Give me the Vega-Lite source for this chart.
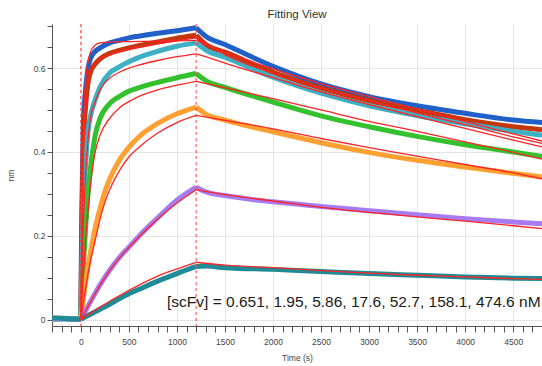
{
  "$schema": "https://vega.github.io/schema/vega-lite/v6.json",
  "width": 490,
  "height": 302,
  "autosize": {"type": "none"},
  "padding": {"left": 52, "top": 24, "right": 0, "bottom": 40},
  "background": "white",
  "title": {"text": "Fitting View", "fontSize": 11.5, "font": "Liberation Sans Narrow, Liberation Sans", "fontWeight": "normal", "color": "#333333", "anchor": "middle", "offset": -3},
  "config": {
    "view": {"stroke": null},
    "axis": {
      "domainColor": "#555555",
      "tickColor": "#555555",
      "labelColor": "#444444",
      "labelFont": "Liberation Sans Narrow, Liberation Sans",
      "labelFontSize": 8.5,
      "titleFont": "Liberation Sans Narrow, Liberation Sans",
      "titleFontSize": 8.5,
      "titleFontWeight": "normal",
      "titleColor": "#444444",
      "gridColor": "#e4e4e4",
      "labelOverlap": false,
      "labelFlush": false
    }
  },
  "datasets": {
    "curves": [
    {"conc":"474.6","kind":"data","phase":"b","time":-300,"value":0.003},
    {"conc":"474.6","kind":"data","phase":"b","time":-150,"value":0.002},
    {"conc":"474.6","kind":"data","phase":"b","time":0,"value":0.001},
    {"conc":"474.6","kind":"data","phase":"a","time":0,"value":0.001},
    {"conc":"474.6","kind":"data","phase":"a","time":10,"value":0.25},
    {"conc":"474.6","kind":"data","phase":"a","time":25,"value":0.46},
    {"conc":"474.6","kind":"data","phase":"a","time":50,"value":0.55},
    {"conc":"474.6","kind":"data","phase":"a","time":75,"value":0.6},
    {"conc":"474.6","kind":"data","phase":"a","time":100,"value":0.622},
    {"conc":"474.6","kind":"data","phase":"a","time":150,"value":0.64},
    {"conc":"474.6","kind":"data","phase":"a","time":200,"value":0.648},
    {"conc":"474.6","kind":"data","phase":"a","time":300,"value":0.66},
    {"conc":"474.6","kind":"data","phase":"a","time":400,"value":0.666},
    {"conc":"474.6","kind":"data","phase":"a","time":500,"value":0.672},
    {"conc":"474.6","kind":"data","phase":"a","time":600,"value":0.676},
    {"conc":"474.6","kind":"data","phase":"a","time":800,"value":0.683},
    {"conc":"474.6","kind":"data","phase":"a","time":1000,"value":0.689},
    {"conc":"474.6","kind":"data","phase":"a","time":1200,"value":0.696},
    {"conc":"474.6","kind":"data","phase":"d","time":1200,"value":0.696},
    {"conc":"474.6","kind":"data","phase":"d","time":1300,"value":0.676},
    {"conc":"474.6","kind":"data","phase":"d","time":1500,"value":0.656},
    {"conc":"474.6","kind":"data","phase":"d","time":2000,"value":0.604},
    {"conc":"474.6","kind":"data","phase":"d","time":2500,"value":0.562},
    {"conc":"474.6","kind":"data","phase":"d","time":3000,"value":0.532},
    {"conc":"474.6","kind":"data","phase":"d","time":3500,"value":0.51},
    {"conc":"474.6","kind":"data","phase":"d","time":4000,"value":0.492},
    {"conc":"474.6","kind":"data","phase":"d","time":4500,"value":0.476},
    {"conc":"474.6","kind":"data","phase":"d","time":4800,"value":0.47},
    {"conc":"474.6","kind":"fit","phase":"a","time":0,"value":0},
    {"conc":"474.6","kind":"fit","phase":"a","time":10,"value":0.2},
    {"conc":"474.6","kind":"fit","phase":"a","time":25,"value":0.42},
    {"conc":"474.6","kind":"fit","phase":"a","time":50,"value":0.57},
    {"conc":"474.6","kind":"fit","phase":"a","time":75,"value":0.615},
    {"conc":"474.6","kind":"fit","phase":"a","time":100,"value":0.638},
    {"conc":"474.6","kind":"fit","phase":"a","time":150,"value":0.655},
    {"conc":"474.6","kind":"fit","phase":"a","time":200,"value":0.66},
    {"conc":"474.6","kind":"fit","phase":"a","time":300,"value":0.662},
    {"conc":"474.6","kind":"fit","phase":"a","time":500,"value":0.663},
    {"conc":"474.6","kind":"fit","phase":"a","time":800,"value":0.664},
    {"conc":"474.6","kind":"fit","phase":"a","time":1200,"value":0.666},
    {"conc":"474.6","kind":"fit","phase":"d","time":1200,"value":0.666},
    {"conc":"474.6","kind":"fit","phase":"d","time":1300,"value":0.657},
    {"conc":"474.6","kind":"fit","phase":"d","time":1500,"value":0.638},
    {"conc":"474.6","kind":"fit","phase":"d","time":2000,"value":0.598},
    {"conc":"474.6","kind":"fit","phase":"d","time":2500,"value":0.563},
    {"conc":"474.6","kind":"fit","phase":"d","time":3000,"value":0.532},
    {"conc":"474.6","kind":"fit","phase":"d","time":3500,"value":0.502},
    {"conc":"474.6","kind":"fit","phase":"d","time":4000,"value":0.472},
    {"conc":"474.6","kind":"fit","phase":"d","time":4500,"value":0.443},
    {"conc":"474.6","kind":"fit","phase":"d","time":4800,"value":0.426},

    {"conc":"158.1","kind":"data","phase":"b","time":-300,"value":0.002},
    {"conc":"158.1","kind":"data","phase":"b","time":-150,"value":0.003},
    {"conc":"158.1","kind":"data","phase":"b","time":0,"value":0.001},
    {"conc":"158.1","kind":"data","phase":"a","time":0,"value":0.001},
    {"conc":"158.1","kind":"data","phase":"a","time":10,"value":0.2},
    {"conc":"158.1","kind":"data","phase":"a","time":25,"value":0.4},
    {"conc":"158.1","kind":"data","phase":"a","time":50,"value":0.51},
    {"conc":"158.1","kind":"data","phase":"a","time":75,"value":0.565},
    {"conc":"158.1","kind":"data","phase":"a","time":100,"value":0.59},
    {"conc":"158.1","kind":"data","phase":"a","time":150,"value":0.61},
    {"conc":"158.1","kind":"data","phase":"a","time":200,"value":0.622},
    {"conc":"158.1","kind":"data","phase":"a","time":300,"value":0.635},
    {"conc":"158.1","kind":"data","phase":"a","time":400,"value":0.642},
    {"conc":"158.1","kind":"data","phase":"a","time":500,"value":0.648},
    {"conc":"158.1","kind":"data","phase":"a","time":600,"value":0.653},
    {"conc":"158.1","kind":"data","phase":"a","time":800,"value":0.662},
    {"conc":"158.1","kind":"data","phase":"a","time":1000,"value":0.671},
    {"conc":"158.1","kind":"data","phase":"a","time":1200,"value":0.678},
    {"conc":"158.1","kind":"data","phase":"d","time":1200,"value":0.678},
    {"conc":"158.1","kind":"data","phase":"d","time":1300,"value":0.656},
    {"conc":"158.1","kind":"data","phase":"d","time":1500,"value":0.638},
    {"conc":"158.1","kind":"data","phase":"d","time":2000,"value":0.59},
    {"conc":"158.1","kind":"data","phase":"d","time":2500,"value":0.552},
    {"conc":"158.1","kind":"data","phase":"d","time":3000,"value":0.522},
    {"conc":"158.1","kind":"data","phase":"d","time":3500,"value":0.499},
    {"conc":"158.1","kind":"data","phase":"d","time":4000,"value":0.477},
    {"conc":"158.1","kind":"data","phase":"d","time":4500,"value":0.46},
    {"conc":"158.1","kind":"data","phase":"d","time":4800,"value":0.453},
    {"conc":"158.1","kind":"fit","phase":"a","time":0,"value":0},
    {"conc":"158.1","kind":"fit","phase":"a","time":10,"value":0.17},
    {"conc":"158.1","kind":"fit","phase":"a","time":25,"value":0.37},
    {"conc":"158.1","kind":"fit","phase":"a","time":50,"value":0.5},
    {"conc":"158.1","kind":"fit","phase":"a","time":75,"value":0.56},
    {"conc":"158.1","kind":"fit","phase":"a","time":100,"value":0.59},
    {"conc":"158.1","kind":"fit","phase":"a","time":150,"value":0.612},
    {"conc":"158.1","kind":"fit","phase":"a","time":200,"value":0.622},
    {"conc":"158.1","kind":"fit","phase":"a","time":300,"value":0.632},
    {"conc":"158.1","kind":"fit","phase":"a","time":400,"value":0.64},
    {"conc":"158.1","kind":"fit","phase":"a","time":500,"value":0.645},
    {"conc":"158.1","kind":"fit","phase":"a","time":600,"value":0.65},
    {"conc":"158.1","kind":"fit","phase":"a","time":800,"value":0.658},
    {"conc":"158.1","kind":"fit","phase":"a","time":1000,"value":0.665},
    {"conc":"158.1","kind":"fit","phase":"a","time":1200,"value":0.672},
    {"conc":"158.1","kind":"fit","phase":"d","time":1200,"value":0.672},
    {"conc":"158.1","kind":"fit","phase":"d","time":1300,"value":0.66},
    {"conc":"158.1","kind":"fit","phase":"d","time":1500,"value":0.632},
    {"conc":"158.1","kind":"fit","phase":"d","time":2000,"value":0.588},
    {"conc":"158.1","kind":"fit","phase":"d","time":2500,"value":0.552},
    {"conc":"158.1","kind":"fit","phase":"d","time":3000,"value":0.522},
    {"conc":"158.1","kind":"fit","phase":"d","time":3500,"value":0.493},
    {"conc":"158.1","kind":"fit","phase":"d","time":4000,"value":0.465},
    {"conc":"158.1","kind":"fit","phase":"d","time":4500,"value":0.436},
    {"conc":"158.1","kind":"fit","phase":"d","time":4800,"value":0.42},

    {"conc":"52.7","kind":"data","phase":"b","time":-300,"value":0.002},
    {"conc":"52.7","kind":"data","phase":"b","time":-150,"value":0.002},
    {"conc":"52.7","kind":"data","phase":"b","time":0,"value":0.001},
    {"conc":"52.7","kind":"data","phase":"a","time":0,"value":0.001},
    {"conc":"52.7","kind":"data","phase":"a","time":10,"value":0.1},
    {"conc":"52.7","kind":"data","phase":"a","time":25,"value":0.25},
    {"conc":"52.7","kind":"data","phase":"a","time":50,"value":0.37},
    {"conc":"52.7","kind":"data","phase":"a","time":75,"value":0.45},
    {"conc":"52.7","kind":"data","phase":"a","time":100,"value":0.485},
    {"conc":"52.7","kind":"data","phase":"a","time":150,"value":0.525},
    {"conc":"52.7","kind":"data","phase":"a","time":200,"value":0.555},
    {"conc":"52.7","kind":"data","phase":"a","time":300,"value":0.588},
    {"conc":"52.7","kind":"data","phase":"a","time":400,"value":0.603},
    {"conc":"52.7","kind":"data","phase":"a","time":500,"value":0.615},
    {"conc":"52.7","kind":"data","phase":"a","time":600,"value":0.625},
    {"conc":"52.7","kind":"data","phase":"a","time":800,"value":0.64},
    {"conc":"52.7","kind":"data","phase":"a","time":1000,"value":0.652},
    {"conc":"52.7","kind":"data","phase":"a","time":1200,"value":0.66},
    {"conc":"52.7","kind":"data","phase":"d","time":1200,"value":0.66},
    {"conc":"52.7","kind":"data","phase":"d","time":1300,"value":0.643},
    {"conc":"52.7","kind":"data","phase":"d","time":1500,"value":0.626},
    {"conc":"52.7","kind":"data","phase":"d","time":2000,"value":0.578},
    {"conc":"52.7","kind":"data","phase":"d","time":2500,"value":0.54},
    {"conc":"52.7","kind":"data","phase":"d","time":3000,"value":0.51},
    {"conc":"52.7","kind":"data","phase":"d","time":3500,"value":0.487},
    {"conc":"52.7","kind":"data","phase":"d","time":4000,"value":0.467},
    {"conc":"52.7","kind":"data","phase":"d","time":4500,"value":0.449},
    {"conc":"52.7","kind":"data","phase":"d","time":4800,"value":0.44},
    {"conc":"52.7","kind":"fit","phase":"a","time":0,"value":0},
    {"conc":"52.7","kind":"fit","phase":"a","time":10,"value":0.09},
    {"conc":"52.7","kind":"fit","phase":"a","time":25,"value":0.22},
    {"conc":"52.7","kind":"fit","phase":"a","time":50,"value":0.35},
    {"conc":"52.7","kind":"fit","phase":"a","time":75,"value":0.43},
    {"conc":"52.7","kind":"fit","phase":"a","time":100,"value":0.48},
    {"conc":"52.7","kind":"fit","phase":"a","time":150,"value":0.52},
    {"conc":"52.7","kind":"fit","phase":"a","time":200,"value":0.548},
    {"conc":"52.7","kind":"fit","phase":"a","time":300,"value":0.576},
    {"conc":"52.7","kind":"fit","phase":"a","time":400,"value":0.59},
    {"conc":"52.7","kind":"fit","phase":"a","time":500,"value":0.6},
    {"conc":"52.7","kind":"fit","phase":"a","time":600,"value":0.607},
    {"conc":"52.7","kind":"fit","phase":"a","time":800,"value":0.618},
    {"conc":"52.7","kind":"fit","phase":"a","time":1000,"value":0.627},
    {"conc":"52.7","kind":"fit","phase":"a","time":1200,"value":0.634},
    {"conc":"52.7","kind":"fit","phase":"d","time":1200,"value":0.634},
    {"conc":"52.7","kind":"fit","phase":"d","time":1300,"value":0.627},
    {"conc":"52.7","kind":"fit","phase":"d","time":1500,"value":0.612},
    {"conc":"52.7","kind":"fit","phase":"d","time":2000,"value":0.577},
    {"conc":"52.7","kind":"fit","phase":"d","time":2500,"value":0.543},
    {"conc":"52.7","kind":"fit","phase":"d","time":3000,"value":0.513},
    {"conc":"52.7","kind":"fit","phase":"d","time":3500,"value":0.484},
    {"conc":"52.7","kind":"fit","phase":"d","time":4000,"value":0.456},
    {"conc":"52.7","kind":"fit","phase":"d","time":4500,"value":0.428},
    {"conc":"52.7","kind":"fit","phase":"d","time":4800,"value":0.412},

    {"conc":"17.6","kind":"data","phase":"b","time":-300,"value":0.002},
    {"conc":"17.6","kind":"data","phase":"b","time":-150,"value":0.003},
    {"conc":"17.6","kind":"data","phase":"b","time":0,"value":0.001},
    {"conc":"17.6","kind":"data","phase":"a","time":0,"value":0.001},
    {"conc":"17.6","kind":"data","phase":"a","time":25,"value":0.12},
    {"conc":"17.6","kind":"data","phase":"a","time":50,"value":0.22},
    {"conc":"17.6","kind":"data","phase":"a","time":75,"value":0.3},
    {"conc":"17.6","kind":"data","phase":"a","time":100,"value":0.36},
    {"conc":"17.6","kind":"data","phase":"a","time":150,"value":0.44},
    {"conc":"17.6","kind":"data","phase":"a","time":200,"value":0.48},
    {"conc":"17.6","kind":"data","phase":"a","time":300,"value":0.515},
    {"conc":"17.6","kind":"data","phase":"a","time":400,"value":0.532},
    {"conc":"17.6","kind":"data","phase":"a","time":500,"value":0.545},
    {"conc":"17.6","kind":"data","phase":"a","time":600,"value":0.553},
    {"conc":"17.6","kind":"data","phase":"a","time":800,"value":0.566},
    {"conc":"17.6","kind":"data","phase":"a","time":1000,"value":0.577},
    {"conc":"17.6","kind":"data","phase":"a","time":1200,"value":0.587},
    {"conc":"17.6","kind":"data","phase":"d","time":1200,"value":0.587},
    {"conc":"17.6","kind":"data","phase":"d","time":1300,"value":0.57},
    {"conc":"17.6","kind":"data","phase":"d","time":1500,"value":0.554},
    {"conc":"17.6","kind":"data","phase":"d","time":2000,"value":0.519},
    {"conc":"17.6","kind":"data","phase":"d","time":2500,"value":0.486},
    {"conc":"17.6","kind":"data","phase":"d","time":3000,"value":0.46},
    {"conc":"17.6","kind":"data","phase":"d","time":3500,"value":0.437},
    {"conc":"17.6","kind":"data","phase":"d","time":4000,"value":0.417},
    {"conc":"17.6","kind":"data","phase":"d","time":4500,"value":0.4},
    {"conc":"17.6","kind":"data","phase":"d","time":4800,"value":0.389},
    {"conc":"17.6","kind":"fit","phase":"a","time":0,"value":0},
    {"conc":"17.6","kind":"fit","phase":"a","time":25,"value":0.1},
    {"conc":"17.6","kind":"fit","phase":"a","time":50,"value":0.19},
    {"conc":"17.6","kind":"fit","phase":"a","time":75,"value":0.26},
    {"conc":"17.6","kind":"fit","phase":"a","time":100,"value":0.32},
    {"conc":"17.6","kind":"fit","phase":"a","time":150,"value":0.4},
    {"conc":"17.6","kind":"fit","phase":"a","time":200,"value":0.44},
    {"conc":"17.6","kind":"fit","phase":"a","time":300,"value":0.48},
    {"conc":"17.6","kind":"fit","phase":"a","time":400,"value":0.505},
    {"conc":"17.6","kind":"fit","phase":"a","time":500,"value":0.52},
    {"conc":"17.6","kind":"fit","phase":"a","time":600,"value":0.532},
    {"conc":"17.6","kind":"fit","phase":"a","time":800,"value":0.548},
    {"conc":"17.6","kind":"fit","phase":"a","time":1000,"value":0.559},
    {"conc":"17.6","kind":"fit","phase":"a","time":1200,"value":0.568},
    {"conc":"17.6","kind":"fit","phase":"d","time":1200,"value":0.568},
    {"conc":"17.6","kind":"fit","phase":"d","time":1500,"value":0.553},
    {"conc":"17.6","kind":"fit","phase":"d","time":2000,"value":0.527},
    {"conc":"17.6","kind":"fit","phase":"d","time":2500,"value":0.5},
    {"conc":"17.6","kind":"fit","phase":"d","time":3000,"value":0.473},
    {"conc":"17.6","kind":"fit","phase":"d","time":3500,"value":0.449},
    {"conc":"17.6","kind":"fit","phase":"d","time":4000,"value":0.424},
    {"conc":"17.6","kind":"fit","phase":"d","time":4500,"value":0.399},
    {"conc":"17.6","kind":"fit","phase":"d","time":4800,"value":0.383},

    {"conc":"5.86","kind":"data","phase":"b","time":-300,"value":0.004},
    {"conc":"5.86","kind":"data","phase":"b","time":-150,"value":0.003},
    {"conc":"5.86","kind":"data","phase":"b","time":0,"value":0.001},
    {"conc":"5.86","kind":"data","phase":"a","time":0,"value":0.001},
    {"conc":"5.86","kind":"data","phase":"a","time":50,"value":0.09},
    {"conc":"5.86","kind":"data","phase":"a","time":100,"value":0.16},
    {"conc":"5.86","kind":"data","phase":"a","time":150,"value":0.22},
    {"conc":"5.86","kind":"data","phase":"a","time":200,"value":0.265},
    {"conc":"5.86","kind":"data","phase":"a","time":250,"value":0.305},
    {"conc":"5.86","kind":"data","phase":"a","time":300,"value":0.335},
    {"conc":"5.86","kind":"data","phase":"a","time":400,"value":0.38},
    {"conc":"5.86","kind":"data","phase":"a","time":500,"value":0.411},
    {"conc":"5.86","kind":"data","phase":"a","time":600,"value":0.435},
    {"conc":"5.86","kind":"data","phase":"a","time":800,"value":0.468},
    {"conc":"5.86","kind":"data","phase":"a","time":1000,"value":0.491},
    {"conc":"5.86","kind":"data","phase":"a","time":1200,"value":0.507},
    {"conc":"5.86","kind":"data","phase":"d","time":1200,"value":0.507},
    {"conc":"5.86","kind":"data","phase":"d","time":1300,"value":0.49},
    {"conc":"5.86","kind":"data","phase":"d","time":1500,"value":0.476},
    {"conc":"5.86","kind":"data","phase":"d","time":2000,"value":0.448},
    {"conc":"5.86","kind":"data","phase":"d","time":2500,"value":0.422},
    {"conc":"5.86","kind":"data","phase":"d","time":3000,"value":0.399},
    {"conc":"5.86","kind":"data","phase":"d","time":3500,"value":0.38},
    {"conc":"5.86","kind":"data","phase":"d","time":4000,"value":0.364},
    {"conc":"5.86","kind":"data","phase":"d","time":4500,"value":0.349},
    {"conc":"5.86","kind":"data","phase":"d","time":4800,"value":0.34},
    {"conc":"5.86","kind":"fit","phase":"a","time":0,"value":0},
    {"conc":"5.86","kind":"fit","phase":"a","time":50,"value":0.075},
    {"conc":"5.86","kind":"fit","phase":"a","time":100,"value":0.14},
    {"conc":"5.86","kind":"fit","phase":"a","time":150,"value":0.19},
    {"conc":"5.86","kind":"fit","phase":"a","time":200,"value":0.24},
    {"conc":"5.86","kind":"fit","phase":"a","time":250,"value":0.28},
    {"conc":"5.86","kind":"fit","phase":"a","time":300,"value":0.31},
    {"conc":"5.86","kind":"fit","phase":"a","time":400,"value":0.355},
    {"conc":"5.86","kind":"fit","phase":"a","time":500,"value":0.388},
    {"conc":"5.86","kind":"fit","phase":"a","time":600,"value":0.41},
    {"conc":"5.86","kind":"fit","phase":"a","time":800,"value":0.445},
    {"conc":"5.86","kind":"fit","phase":"a","time":1000,"value":0.47},
    {"conc":"5.86","kind":"fit","phase":"a","time":1200,"value":0.487},
    {"conc":"5.86","kind":"fit","phase":"d","time":1200,"value":0.487},
    {"conc":"5.86","kind":"fit","phase":"d","time":1500,"value":0.475},
    {"conc":"5.86","kind":"fit","phase":"d","time":2000,"value":0.455},
    {"conc":"5.86","kind":"fit","phase":"d","time":2500,"value":0.432},
    {"conc":"5.86","kind":"fit","phase":"d","time":3000,"value":0.41},
    {"conc":"5.86","kind":"fit","phase":"d","time":3500,"value":0.39},
    {"conc":"5.86","kind":"fit","phase":"d","time":4000,"value":0.37},
    {"conc":"5.86","kind":"fit","phase":"d","time":4500,"value":0.35},
    {"conc":"5.86","kind":"fit","phase":"d","time":4800,"value":0.336},

    {"conc":"1.95","kind":"data","phase":"b","time":-300,"value":0.002},
    {"conc":"1.95","kind":"data","phase":"b","time":-150,"value":0.002},
    {"conc":"1.95","kind":"data","phase":"b","time":0,"value":0.001},
    {"conc":"1.95","kind":"data","phase":"a","time":0,"value":0.001},
    {"conc":"1.95","kind":"data","phase":"a","time":100,"value":0.043},
    {"conc":"1.95","kind":"data","phase":"a","time":200,"value":0.083},
    {"conc":"1.95","kind":"data","phase":"a","time":300,"value":0.118},
    {"conc":"1.95","kind":"data","phase":"a","time":400,"value":0.148},
    {"conc":"1.95","kind":"data","phase":"a","time":500,"value":0.173},
    {"conc":"1.95","kind":"data","phase":"a","time":600,"value":0.198},
    {"conc":"1.95","kind":"data","phase":"a","time":800,"value":0.243},
    {"conc":"1.95","kind":"data","phase":"a","time":1000,"value":0.285},
    {"conc":"1.95","kind":"data","phase":"a","time":1200,"value":0.316},
    {"conc":"1.95","kind":"data","phase":"d","time":1200,"value":0.316},
    {"conc":"1.95","kind":"data","phase":"d","time":1300,"value":0.305},
    {"conc":"1.95","kind":"data","phase":"d","time":1500,"value":0.296},
    {"conc":"1.95","kind":"data","phase":"d","time":2000,"value":0.281},
    {"conc":"1.95","kind":"data","phase":"d","time":2500,"value":0.27},
    {"conc":"1.95","kind":"data","phase":"d","time":3000,"value":0.26},
    {"conc":"1.95","kind":"data","phase":"d","time":3500,"value":0.25},
    {"conc":"1.95","kind":"data","phase":"d","time":4000,"value":0.241},
    {"conc":"1.95","kind":"data","phase":"d","time":4500,"value":0.233},
    {"conc":"1.95","kind":"data","phase":"d","time":4800,"value":0.229},
    {"conc":"1.95","kind":"fit","phase":"a","time":0,"value":0},
    {"conc":"1.95","kind":"fit","phase":"a","time":100,"value":0.042},
    {"conc":"1.95","kind":"fit","phase":"a","time":200,"value":0.082},
    {"conc":"1.95","kind":"fit","phase":"a","time":300,"value":0.117},
    {"conc":"1.95","kind":"fit","phase":"a","time":400,"value":0.147},
    {"conc":"1.95","kind":"fit","phase":"a","time":500,"value":0.172},
    {"conc":"1.95","kind":"fit","phase":"a","time":600,"value":0.196},
    {"conc":"1.95","kind":"fit","phase":"a","time":800,"value":0.24},
    {"conc":"1.95","kind":"fit","phase":"a","time":1000,"value":0.278},
    {"conc":"1.95","kind":"fit","phase":"a","time":1200,"value":0.31},
    {"conc":"1.95","kind":"fit","phase":"d","time":1200,"value":0.31},
    {"conc":"1.95","kind":"fit","phase":"d","time":1500,"value":0.298},
    {"conc":"1.95","kind":"fit","phase":"d","time":2000,"value":0.283},
    {"conc":"1.95","kind":"fit","phase":"d","time":2500,"value":0.268},
    {"conc":"1.95","kind":"fit","phase":"d","time":3000,"value":0.256},
    {"conc":"1.95","kind":"fit","phase":"d","time":3500,"value":0.245},
    {"conc":"1.95","kind":"fit","phase":"d","time":4000,"value":0.235},
    {"conc":"1.95","kind":"fit","phase":"d","time":4500,"value":0.224},
    {"conc":"1.95","kind":"fit","phase":"d","time":4800,"value":0.217},

    {"conc":"0.651","kind":"data","phase":"b","time":-300,"value":0.004},
    {"conc":"0.651","kind":"data","phase":"b","time":-150,"value":0.003},
    {"conc":"0.651","kind":"data","phase":"b","time":0,"value":0.001},
    {"conc":"0.651","kind":"data","phase":"a","time":0,"value":0.001},
    {"conc":"0.651","kind":"data","phase":"a","time":100,"value":0.013},
    {"conc":"0.651","kind":"data","phase":"a","time":200,"value":0.025},
    {"conc":"0.651","kind":"data","phase":"a","time":300,"value":0.037},
    {"conc":"0.651","kind":"data","phase":"a","time":400,"value":0.05},
    {"conc":"0.651","kind":"data","phase":"a","time":500,"value":0.062},
    {"conc":"0.651","kind":"data","phase":"a","time":600,"value":0.072},
    {"conc":"0.651","kind":"data","phase":"a","time":800,"value":0.092},
    {"conc":"0.651","kind":"data","phase":"a","time":1000,"value":0.11},
    {"conc":"0.651","kind":"data","phase":"a","time":1200,"value":0.127},
    {"conc":"0.651","kind":"data","phase":"d","time":1200,"value":0.127},
    {"conc":"0.651","kind":"data","phase":"d","time":1300,"value":0.128},
    {"conc":"0.651","kind":"data","phase":"d","time":1500,"value":0.124},
    {"conc":"0.651","kind":"data","phase":"d","time":2000,"value":0.12},
    {"conc":"0.651","kind":"data","phase":"d","time":2500,"value":0.115},
    {"conc":"0.651","kind":"data","phase":"d","time":3000,"value":0.11},
    {"conc":"0.651","kind":"data","phase":"d","time":3500,"value":0.106},
    {"conc":"0.651","kind":"data","phase":"d","time":4000,"value":0.102},
    {"conc":"0.651","kind":"data","phase":"d","time":4500,"value":0.099},
    {"conc":"0.651","kind":"data","phase":"d","time":4800,"value":0.098},
    {"conc":"0.651","kind":"fit","phase":"a","time":0,"value":0},
    {"conc":"0.651","kind":"fit","phase":"a","time":100,"value":0.015},
    {"conc":"0.651","kind":"fit","phase":"a","time":200,"value":0.03},
    {"conc":"0.651","kind":"fit","phase":"a","time":300,"value":0.044},
    {"conc":"0.651","kind":"fit","phase":"a","time":400,"value":0.057},
    {"conc":"0.651","kind":"fit","phase":"a","time":500,"value":0.07},
    {"conc":"0.651","kind":"fit","phase":"a","time":600,"value":0.082},
    {"conc":"0.651","kind":"fit","phase":"a","time":800,"value":0.104},
    {"conc":"0.651","kind":"fit","phase":"a","time":1000,"value":0.121},
    {"conc":"0.651","kind":"fit","phase":"a","time":1200,"value":0.137},
    {"conc":"0.651","kind":"fit","phase":"d","time":1200,"value":0.137},
    {"conc":"0.651","kind":"fit","phase":"d","time":1500,"value":0.13},
    {"conc":"0.651","kind":"fit","phase":"d","time":2000,"value":0.124},
    {"conc":"0.651","kind":"fit","phase":"d","time":2500,"value":0.117},
    {"conc":"0.651","kind":"fit","phase":"d","time":3000,"value":0.111},
    {"conc":"0.651","kind":"fit","phase":"d","time":3500,"value":0.106},
    {"conc":"0.651","kind":"fit","phase":"d","time":4000,"value":0.102},
    {"conc":"0.651","kind":"fit","phase":"d","time":4500,"value":0.098},
    {"conc":"0.651","kind":"fit","phase":"d","time":4800,"value":0.096}
    ],
    "injections": [{"time": 0}, {"time": 1200}],
    "note": [{"time": 4785, "value": 0.03, "label": "[scFv] = 0.651, 1.95, 5.86, 17.6, 52.7, 158.1, 474.6 nM"}]
  },
  "encoding": {
    "x": {
      "field": "time", "type": "quantitative",
      "scale": {"domain": [-300, 4800], "nice": false, "zero": false},
      "axis": {
        "title": "Time (s)",
        "values": [-300,-200,-100,0,100,200,300,400,500,600,700,800,900,1000,1100,1200,1300,1400,1500,1600,1700,1800,1900,2000,2100,2200,2300,2400,2500,2600,2700,2800,2900,3000,3100,3200,3300,3400,3500,3600,3700,3800,3900,4000,4100,4200,4300,4400,4500,4600,4700,4800],
        "format": "d",
        "labelExpr": "datum.value % 500 === 0 ? datum.label : ''",
        "gridOpacity": {"condition": {"test": "datum.value % 500 === 0", "value": 1}, "value": 0},
        "tickSize": 6,
        "labelPadding": 5,
        "titlePadding": 8
      }
    },
    "y": {
      "field": "value", "type": "quantitative",
      "scale": {"domain": [-0.015, 0.705], "nice": false, "zero": false},
      "axis": {
        "title": "nm",
        "values": [0,0.05,0.1,0.15,0.2,0.25,0.3,0.35,0.4,0.45,0.5,0.55,0.6,0.65,0.7],
        "labelExpr": "abs(datum.value*5 - round(datum.value*5)) < 0.001 ? format(datum.value, '.1~f') : ''",
        "gridOpacity": {"condition": {"test": "abs(datum.value*5 - round(datum.value*5)) < 0.001", "value": 1}, "value": 0},
        "tickSize": 5,
        "labelPadding": 2,
        "titlePadding": 18
      }
    }
  },
  "layer": [
    {
      "data": {"name": "curves"},
      "transform": [{"filter": "datum.kind === 'data'"}],
      "mark": {"type": "line", "strokeWidth": 5, "interpolate": "monotone"},
      "encoding": {
        "color": {
          "field": "conc", "type": "nominal", "legend": null,
          "scale": {
            "domain": ["0.651","1.95","5.86","17.6","52.7","158.1","474.6"],
            "range": ["#1f8b96","#a77cf2","#ffa033","#33c12e","#3eb0c4","#c4360c","#2060c8"]
          }
        },
        "detail": [{"field": "conc"}, {"field": "phase"}]
      }
    },
    {
      "data": {"name": "curves"},
      "transform": [{"filter": "datum.kind === 'fit'"}],
      "mark": {"type": "line", "strokeWidth": 1.3, "color": "#ff2424", "interpolate": "monotone"},
      "encoding": {
        "detail": [{"field": "conc"}, {"field": "phase"}]
      }
    },
    {
      "data": {"name": "injections"},
      "mark": {"type": "rule", "color": "#ff3b3b", "strokeDash": [3, 3], "strokeWidth": 1},
      "encoding": {"y": null}
    },
    {
      "data": {"name": "note"},
      "mark": {"type": "text", "align": "right", "baseline": "alphabetic", "fontSize": 15.5, "font": "Liberation Sans", "color": "#1a1a1a"},
      "encoding": {
        "text": {"field": "label"}
      }
    }
  ]
}
